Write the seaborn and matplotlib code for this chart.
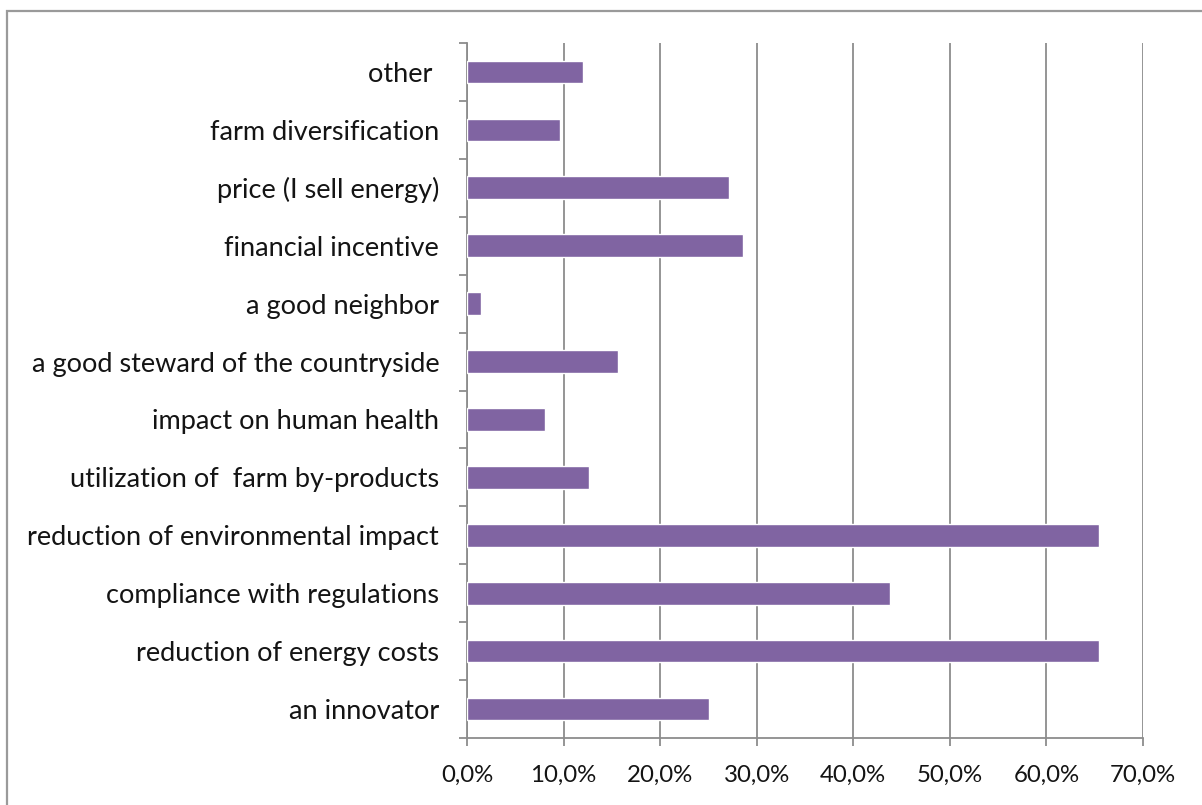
import matplotlib
matplotlib.use("Agg")
import matplotlib.pyplot as plt
import matplotlib.patches as mpatches
from matplotlib.ticker import FixedLocator, FuncFormatter
import seaborn as sns
import pandas as pd

# Motivations, listed top to bottom
motivations = [
    "other ",
    "farm diversification",
    "price (I sell energy)",
    "financial incentive",
    "a good neighbor",
    "a good steward of the countryside",
    "impact on human health",
    "utilization of  farm by-products",
    "reduction of environmental impact",
    "compliance with regulations",
    "reduction of energy costs",
    "an innovator",
]
shares = [12.0, 9.6, 27.1, 28.6, 1.5, 15.6, 8.1, 12.6, 65.4, 43.8, 65.4, 25.1]
x_ticks = [0, 10, 20, 30, 40, 50, 60, 70]

df = pd.DataFrame({"motivation": motivations, "share": shares})

sns.set_theme(style="white")
plt.rcParams["font.family"] = ["Lato", "DejaVu Sans"]

fig = plt.figure(figsize=(12.02, 8.05), dpi=100)
ax = fig.add_axes([0.3885, 0.0832, 0.5624, 0.8634])

# outer chart frame
fig.patches.append(mpatches.Rectangle((7 / 1202, -0.05), 1.2, 1 - 11 / 805 + 0.05,
                                      transform=fig.transFigure, fill=False,
                                      edgecolor="#9a9a9a", linewidth=1.6, zorder=0))

sns.barplot(data=df, x="share", y="motivation", order=motivations, orient="h",
            color="#8064A2", saturation=1, width=0.39, ax=ax, zorder=3)

ax.set_xlim(0, 70)
ax.set_ylim(len(motivations) - 0.5, -0.5)
ax.xaxis.set_major_locator(FixedLocator(x_ticks))
ax.xaxis.set_major_formatter(FuncFormatter(lambda v, _: f"{v:.1f}%".replace(".", ",")))
ax.grid(axis="x", color="#8c8c8c", linewidth=1.3, zorder=0)
ax.grid(axis="y", visible=False)
ax.set_axisbelow(True)

ax.set_xlabel("")
ax.set_ylabel("")

for side in ("top", "right"):
    ax.spines[side].set_visible(False)
for side in ("left", "bottom"):
    ax.spines[side].set_color("#8c8c8c")
    ax.spines[side].set_linewidth(1.3)

ax.yaxis.set_minor_locator(FixedLocator([i - 0.5 for i in range(len(motivations) + 1)]))
ax.tick_params(axis="y", which="major", length=0, pad=20, labelsize=19.5, labelcolor="#141414")
ax.tick_params(axis="y", which="minor", left=True, length=6, width=1.3, color="#8c8c8c")
ax.tick_params(axis="x", which="major", bottom=True, length=6, width=1.3, color="#8c8c8c",
               pad=13, labelsize=17.3, labelcolor="#141414")

fig.savefig("out.png", dpi=100, facecolor="white")
